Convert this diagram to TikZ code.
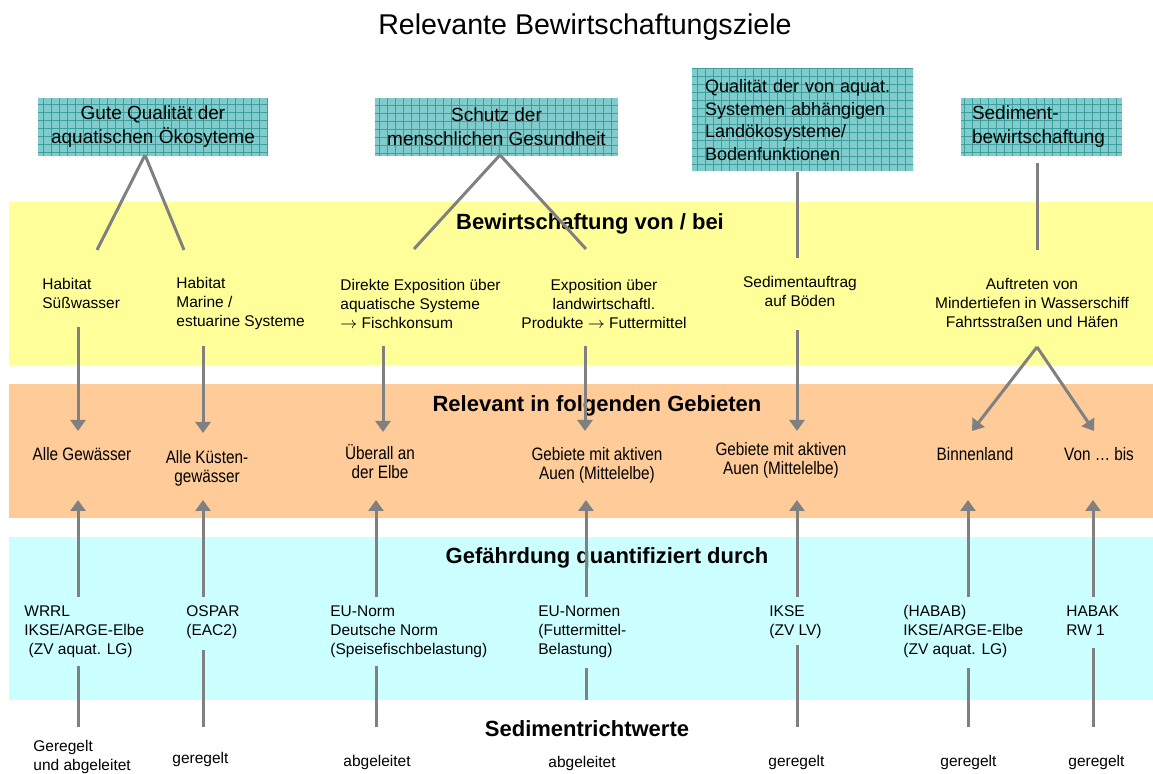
\documentclass[tikz,border=0pt]{standalone}
\usepackage{fontspec}
\setmainfont{Liberation Sans}
\newfontfamily\narrowfont[FakeStretch=0.85]{Liberation Sans}
\usetikzlibrary{arrows.meta}

\definecolor{bandyellow}{HTML}{FFFF99}
\definecolor{bandorange}{HTML}{FFCC99}
\definecolor{bandcyan}{HTML}{CCFFFF}
\definecolor{goalfill}{HTML}{80CCCC}
\definecolor{goalgrid}{HTML}{3D9E9E}
\definecolor{linegray}{HTML}{808080}

\tikzset{
  goal/.style={inner sep=0pt, fill=goalfill, font=\fontsize{9.5}{12}\selectfont,
    path picture={\draw[goalgrid, line width=0.35pt, step=4pt]
      (path picture bounding box.south west) grid (path picture bounding box.north east);}},
  heading/.style={inner sep=0pt, anchor=base, font=\bfseries\fontsize{11}{13}\selectfont},
  txt/.style={inner sep=0pt, font=\fontsize{7.75}{9.5}\selectfont},
  ntxt/.style={inner sep=0pt, anchor=base, align=center, font=\narrowfont\fontsize{9}{9.5}\selectfont},
  link/.style={every edge/.style={draw=linegray, line width=1.5pt}},
  flow/.style={link, -{Triangle[width=7.5pt,length=5.5pt]}}
}

\begin{document}
\begin{tikzpicture}[x=0.5pt,y=-0.5pt]
\useasboundingbox (0,0) rectangle (1153,774);

% Baender
\fill[bandyellow] (9,202) rectangle (1153,365);
\fill[bandorange] (9,384) rectangle (1153,518);
\fill[bandcyan] (9,537) rectangle (1153,700);

\node[inner sep=0pt, anchor=base, font=\fontsize{14.3}{16}\selectfont] (title) at (585,35) {Relevante Bewirtschaftungsziele};

% Ziele
\node[goal, minimum width=115pt, minimum height=29pt, align=center] (g1) at (153,127)
  {Gute Qualit\"at der\\aquatischen \"Okosyteme};
\node[goal, minimum width=121.5pt, minimum height=29pt, align=center] (g2) at (496.5,127)
  {Schutz der\\menschlichen Gesundheit};
\node[goal, minimum height=51.5pt, inner xsep=6.5pt, text width=97.5pt, align=left,
  font=\fontsize{9}{11.2}\selectfont] (g3) at (802.5,120)
  {Qualit\"at der von aquat.\\Systemen abh\"angigen\\Land\"okosysteme/\\Bodenfunktionen};
\node[goal, minimum height=29pt, inner xsep=5.5pt, text width=69.5pt, align=left] (g4) at (1041.5,127)
  {Sediment-\\bewirtschaftung};

% Ueberschriften
\node[heading] (hbew) at (590,230) {Bewirtschaftung von / bei};
\node[heading] (hrel) at (597,412) {Relevant in folgenden Gebieten};
\node[heading] (hgef) at (607,564) {Gef\"ahrdung quantifiziert durch};
\node[heading] (hsed) at (587,737) {Sedimentrichtwerte};

% Bewirtschaftung (base = letzte Zeile)
\node[txt, anchor=base west, align=left] (hsuess) at (42,309) {Habitat\\S\"u\ss wasser};
\node[txt, anchor=base west, align=left] (hmarin) at (176,327) {Habitat\\Marine /\\estuarine Systeme};
\node[txt, anchor=base west, align=left] (exdir) at (340,329)
  {Direkte Exposition \"uber\\aquatische Systeme\\$\rightarrow$ Fischkonsum};
\node[txt, anchor=base, align=center] (exland) at (604,329)
  {Exposition \"uber\\landwirtschaftl.\\Produkte $\rightarrow$ Futtermittel};
\node[txt, anchor=base, align=center] (sedauf) at (800,307) {Sedimentauftrag\\auf B\"oden};
\node[txt, anchor=base, align=center] (mindt) at (1032,328)
  {Auftreten von\\Mindertiefen in Wasserschiff\\Fahrtsstra\ss en und H\"afen};

% Gebiete
\node[ntxt] (galle) at (82,461) {Alle Gew\"asser};
\node[ntxt] (gkuest) at (207,483) {Alle K\"usten-\\gew\"asser};
\node[ntxt] (gelbe) at (380,479) {\"Uberall an\\der Elbe};
\node[ntxt] (gauen1) at (597,480) {Gebiete mit aktiven\\Auen (Mittelelbe)};
\node[ntxt] (gauen2) at (781,475) {Gebiete mit aktiven\\Auen (Mittelelbe)};
\node[ntxt] (gbinn) at (975,461) {Binnenland};
\node[ntxt] (gvon) at (1099,461) {Von \dots\ bis};

% Gefaehrdung
\node[txt, anchor=base west, align=left] (qwrrl) at (24,655) {WRRL\\IKSE/ARGE-Elbe\\\ (ZV aquat. LG)};
\node[txt, anchor=base west, align=left] (qospar) at (186,636) {OSPAR\\(EAC2)};
\node[txt, anchor=base west, align=left] (qeunorm) at (330,655) {EU-Norm\\Deutsche Norm\\(Speisefischbelastung)};
\node[txt, anchor=base west, align=left] (qeunormen) at (538,655) {EU-Normen\\(Futtermittel-\\Belastung)};
\node[txt, anchor=base west, align=left] (qikse) at (769,636) {IKSE\\(ZV LV)};
\node[txt, anchor=base west, align=left] (qhabab) at (903,655) {(HABAB)\\IKSE/ARGE-Elbe\\(ZV aquat. LG)};
\node[txt, anchor=base west, align=left] (qhabak) at (1066,636) {HABAK\\RW 1};

% Richtwerte
\node[txt, anchor=base west, align=left] (r1) at (33,771) {Geregelt\\und abgeleitet};
\node[txt, anchor=base west] (r2) at (172,764) {geregelt};
\node[txt, anchor=base west] (r3) at (343,767) {abgeleitet};
\node[txt, anchor=base west] (r4) at (548,768) {abgeleitet};
\node[txt, anchor=base west] (r5) at (768,767) {geregelt};
\node[txt, anchor=base west] (r6) at (940,767) {geregelt};
\node[txt, anchor=base west] (r7) at (1068,767) {geregelt};

% Anschlusspunkte
\coordinate (g1apex) at (145,155);
\coordinate (g1l) at (97,250);
\coordinate (g1r) at (184,250);
\coordinate (g2apex) at (500,155);
\coordinate (g2l) at (414,249);
\coordinate (g2r) at (586,249);
\coordinate (g3foot) at (797,258);
\coordinate (g4top) at (1037,163);
\coordinate (g4foot) at (1037,250);
\coordinate (mapex) at (1037,347);

\path[link]
(g1apex) edge (g1l)
         edge (g1r)
(g2apex) edge (g2l)
         edge (g2r)
(g3.south -| g3foot) edge (g3foot)
(g4top) edge (g4foot);

% nach unten
\path[flow]
(78,327) edge (78,431)
(203,346) edge (203,433)
(383,346) edge (383,432)
(585,346) edge (585,431)
(797,330) edge (797,431)
(mapex) edge (972,431)
        edge (1094,431);

% nach oben
\path[flow]
(78,597) edge (78,500)
(203,597) edge (203,500)
(376,597) edge (376,500)
(586,597) edge (586,500)
(797,597) edge (797,500)
(968,597) edge (968,500)
(1093,597) edge (1093,500);

% Richtwerte
\path[link]
(78,666) edge (78,727)
(203,650) edge (203,727)
(376,666) edge (376,727)
(586,668) edge (586,700)
(797,645) edge (797,727)
(968,668) edge (968,727)
(1093,648) edge (1093,727);
\end{tikzpicture}
\end{document}
